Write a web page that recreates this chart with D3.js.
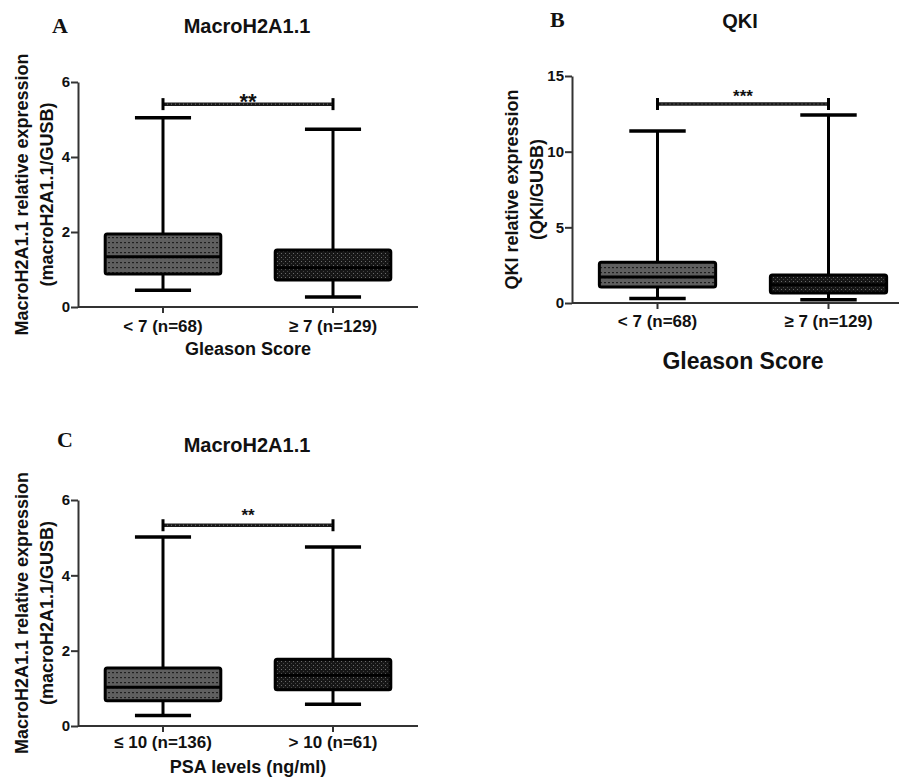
<!DOCTYPE html>
<html>
<head>
<meta charset="utf-8">
<script src="https://cdn.jsdelivr.net/npm/d3@7"></script>
<style>
  body { margin: 0; background: #fff; }
  text { font-family: 'Liberation Sans', Arial, sans-serif; font-weight: bold; fill: #111; }
  .letter { font-family: 'Liberation Serif', 'Times New Roman', serif; }
</style>
</head>
<body>
<script>
// categories
const gleasonGroups = ['< 7 (n=68)', '≥ 7 (n=129)']
const psaGroups = ['≤ 10 (n=136)', '> 10 (n=61)']

// box stats per group: [min, q1, median, q3, max]
const macroGleasonStats = [[0.45, 0.88, 1.34, 1.95, 5.05], [0.27, 0.72, 1.05, 1.52, 4.74]]
const qkiGleasonStats = [[0.30, 1.06, 1.72, 2.70, 11.37], [0.22, 0.66, 1.20, 1.85, 12.43]]
const macroPsaStats = [[0.28, 0.67, 1.03, 1.54, 5.02], [0.58, 0.96, 1.35, 1.77, 4.75]]

// tick labels
const macroTicks = [0, 2, 4, 6]
const qkiTicks = [0, 5, 10, 15]

// significance brackets: [value, stars]
const sigMacroGleason = [5.41, '**']
const sigQkiGleason = [13.15, '***']
const sigMacroPsa = [5.33, '**']

const W = 899, H = 780
const FONT = "'Liberation Sans', Arial, sans-serif"

const svg = d3.select('body').append('svg')
  .attr('width', W).attr('height', H)

svg.append('rect').attr('width', W).attr('height', H).attr('fill', '#fff')

/**
* Fill patterns for the two box styles
**/
const defs = svg.append('defs')

const pGrey = defs.append('pattern').attr('id', 'fill-grey')
  .attr('patternUnits', 'userSpaceOnUse').attr('width', 4).attr('height', 5)
pGrey.append('rect').attr('width', 4).attr('height', 5).attr('fill', '#5f5f5f')
pGrey.append('rect').attr('x', 0).attr('y', 2).attr('width', 2).attr('height', 1.2).attr('fill', '#1f1f1f')

const pDark = defs.append('pattern').attr('id', 'fill-dark')
  .attr('patternUnits', 'userSpaceOnUse').attr('width', 4).attr('height', 4)
pDark.append('rect').attr('width', 4).attr('height', 4).attr('fill', '#161616')
pDark.append('rect').attr('x', 1).attr('y', 1).attr('width', 1).attr('height', 1).attr('fill', '#6a6a6a')
pDark.append('rect').attr('x', 3).attr('y', 3).attr('width', 1).attr('height', 1).attr('fill', '#444')

const fills = ['url(#fill-grey)', 'url(#fill-dark)']

const panels = [
  {
    letter: 'A', letterX: 52, letterY: 33,
    title: 'MacroH2A1.1', titleX: 247, titleY: 33,
    groups: gleasonGroups, stats: macroGleasonStats, ticks: macroTicks, sig: sigMacroGleason,
    xRange: [78, 418], axisEnd: 418, yRange: [307, 82], yMax: 6,
    yLabel: ['MacroH2A1.1 relative expression', '(macroH2A1.1/GUSB)'],
    yLabelX: [28, 53],
    xTitle: 'Gleason Score', xTitleY: 355, xTitleSize: 18,
    xTickPad: 7, starSize: 22, starOffset: 5
  },
  {
    letter: 'B', letterX: 550, letterY: 27,
    title: 'QKI', titleX: 740, titleY: 28,
    groups: gleasonGroups, stats: qkiGleasonStats, ticks: qkiTicks, sig: sigQkiGleason,
    xRange: [572, 914], axisEnd: 899, yRange: [303, 76], yMax: 15,
    yLabel: ['QKI relative expression', '(QKI/GUSB)'],
    yLabelX: [518, 543],
    xTitle: 'Gleason Score', xTitleY: 369, xTitleSize: 23,
    xTickPad: 6, starSize: 17, starOffset: -1.5
  },
  {
    letter: 'C', letterX: 57, letterY: 447,
    title: 'MacroH2A1.1', titleX: 247, titleY: 452,
    groups: psaGroups, stats: macroPsaStats, ticks: macroTicks, sig: sigMacroPsa,
    xRange: [78, 418], axisEnd: 418, yRange: [726, 500], yMax: 6,
    yLabel: ['MacroH2A1.1 relative expression', '(macroH2A1.1/GUSB)'],
    yLabelX: [28, 53],
    xTitle: 'PSA levels (ng/ml)', xTitleY: 773, xTitleSize: 18,
    xTickPad: 4, starSize: 17, starOffset: -4.5
  }
]

const drawPanel = (p) => {
  const g = svg.append('g')

  const x = d3.scaleBand().domain(p.groups).range(p.xRange).padding(0)
  const y = d3.scaleLinear().domain([0, p.yMax]).range(p.yRange)
  const cx = (d) => x(d) + x.bandwidth() / 2
  const boxW = x.bandwidth() * 0.68
  const capW = x.bandwidth() * 0.33

  // letter + title
  g.append('text').attr('class', 'letter')
    .attr('x', p.letterX).attr('y', p.letterY)
    .style('font-size', '22px').text(p.letter)
  g.append('text').attr('x', p.titleX).attr('y', p.titleY)
    .attr('text-anchor', 'middle').style('font-size', '20px').text(p.title)

  // y axis
  const yAxis = g.append('g').attr('transform', 'translate(' + p.xRange[0] + ',0)')
    .call(d3.axisLeft(y).tickValues(p.ticks).tickFormat(d3.format('d'))
      .tickSize(7).tickSizeOuter(0).tickPadding(1))
  yAxis.selectAll('text').style('font-size', '15px').style('font-family', FONT)
    .style('font-weight', 'bold').attr('fill', '#111')
  yAxis.selectAll('line, path').attr('stroke', '#333').attr('stroke-width', 2)

  // x axis
  const xAxis = g.append('g').attr('transform', 'translate(0,' + p.yRange[0] + ')')
    .call(d3.axisBottom(x).tickSize(6).tickSizeOuter(0).tickPadding(p.xTickPad))
  xAxis.select('.domain').remove()
  xAxis.append('line').attr('x1', p.xRange[0]).attr('x2', p.axisEnd)
  xAxis.selectAll('line').attr('stroke', '#333').attr('stroke-width', 2)
  xAxis.selectAll('text').style('font-size', '17px').style('font-family', FONT)
    .style('font-weight', 'bold').attr('fill', '#111')

  // y label
  p.yLabel.forEach((t, i) => {
    g.append('text')
      .attr('transform', 'translate(' + p.yLabelX[i] + ',' + ((p.yRange[0] + p.yRange[1]) / 2) + ') rotate(-90)')
      .attr('text-anchor', 'middle').style('font-size', '18px').text(t)
  })

  // x title
  g.append('text')
    .attr('x', (cx(p.groups[0]) + cx(p.groups[1])) / 2)
    .attr('y', p.xTitleY).attr('text-anchor', 'middle')
    .style('font-size', p.xTitleSize + 'px').text(p.xTitle)

  // boxes
  const data = p.groups.map((k, i) => ({key: k, s: p.stats[i], fill: fills[i]}))
  const box = g.selectAll('.box').data(data).enter().append('g').attr('class', 'box')

  box.append('line').attr('x1', (d) => cx(d.key)).attr('x2', (d) => cx(d.key))
    .attr('y1', (d) => y(d.s[0])).attr('y2', (d) => y(d.s[4]))
    .attr('stroke', '#000').attr('stroke-width', 3)
  box.selectAll('.cap').data((d) => [[d.key, d.s[0]], [d.key, d.s[4]]]).enter()
    .append('line').attr('class', 'cap')
    .attr('x1', (d) => cx(d[0]) - capW / 2).attr('x2', (d) => cx(d[0]) + capW / 2)
    .attr('y1', (d) => y(d[1])).attr('y2', (d) => y(d[1]))
    .attr('stroke', '#000').attr('stroke-width', 3.5)
  box.append('rect')
    .attr('x', (d) => cx(d.key) - boxW / 2).attr('width', boxW)
    .attr('y', (d) => y(d.s[3])).attr('height', (d) => y(d.s[1]) - y(d.s[3]))
    .attr('rx', 2)
    .attr('fill', (d) => d.fill).attr('stroke', '#000').attr('stroke-width', 3)
  box.append('line')
    .attr('x1', (d) => cx(d.key) - boxW / 2).attr('x2', (d) => cx(d.key) + boxW / 2)
    .attr('y1', (d) => y(d.s[2])).attr('y2', (d) => y(d.s[2]))
    .attr('stroke', '#000').attr('stroke-width', 3)

  // significance bracket
  const x1 = cx(p.groups[0]), x2 = cx(p.groups[1]), sy = y(p.sig[0])
  g.append('line').attr('x1', x1).attr('x2', x2).attr('y1', sy).attr('y2', sy)
    .attr('stroke', '#1a1a1a').attr('stroke-width', 3.5)
  g.append('line').attr('x1', x1).attr('x2', x2).attr('y1', sy).attr('y2', sy)
    .attr('stroke', '#777').attr('stroke-width', 1).attr('stroke-dasharray', '1,3')
  ;[x1, x2].forEach((xx) => {
    g.append('line').attr('x1', xx).attr('x2', xx).attr('y1', sy - 6).attr('y2', sy + 6)
      .attr('stroke', '#000').attr('stroke-width', 3)
  })
  g.append('text').attr('x', (x1 + x2) / 2).attr('y', sy + p.starOffset)
    .attr('text-anchor', 'middle').style('font-size', p.starSize + 'px').text(p.sig[1])
}

panels.forEach(drawPanel)
</script>
</body>
</html>
